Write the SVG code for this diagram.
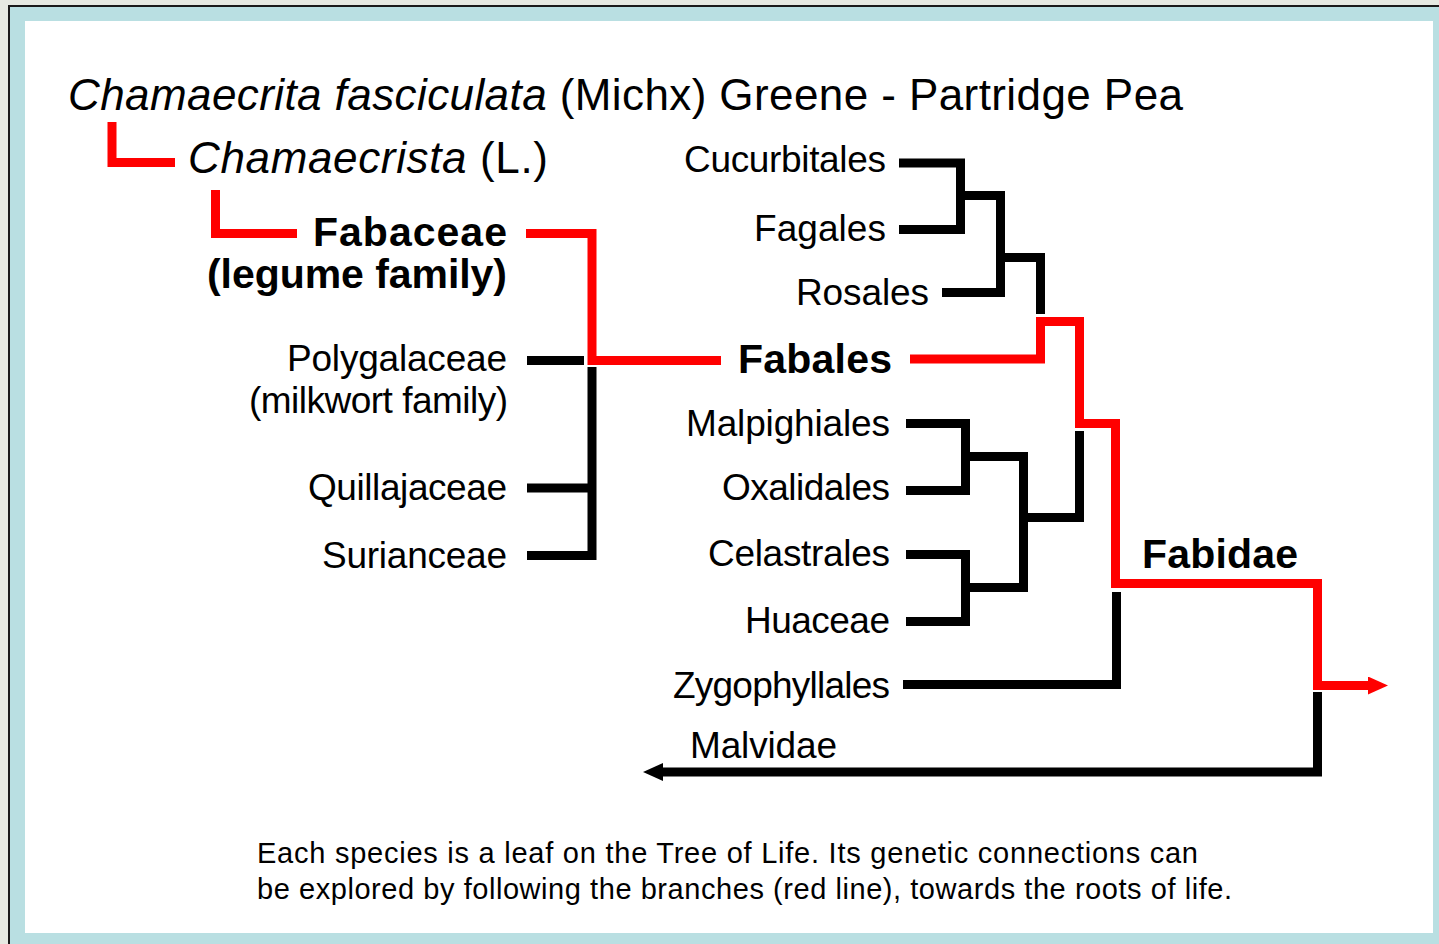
<svg xmlns="http://www.w3.org/2000/svg" width="1439" height="944" viewBox="0 0 1439 944">
<style>
text{font-family:"Liberation Sans",Arial,sans-serif;fill:#000}
.t{font-size:44px}
.b{font-size:41px;font-weight:bold}
.r{font-size:37px}
.f{font-size:29px}
.k{fill:none;stroke:#000;stroke-width:9;stroke-linejoin:miter}
.rd{fill:none;stroke:#ff0000;stroke-width:9;stroke-linejoin:miter}
</style>
<defs>
<marker id="ar" viewBox="0 0 20 18" markerWidth="20" markerHeight="18" markerUnits="userSpaceOnUse" refX="4" refY="9" orient="auto"><path d="M0,0 L20,9 L0,18 Z" fill="#ff0000"/></marker>
<marker id="ak" viewBox="0 0 20 18" markerWidth="20" markerHeight="18" markerUnits="userSpaceOnUse" refX="4" refY="9" orient="auto"><path d="M0,0 L20,9 L0,18 Z" fill="#000"/></marker>
</defs>
<rect x="0" y="0" width="1439" height="944" fill="#e6e9e2"/>
<rect x="8" y="5" width="1431" height="939" fill="#1a1a1a"/>
<rect x="10" y="7" width="1429" height="937" fill="#b9dfe2"/>
<rect x="25" y="21" width="1408" height="912" fill="#ffffff"/>

<g id="connectors">
<path class="k" d="M899,163 H960.5 V229.5 H899"/>
<path class="k" d="M960.5,195.5 H1000.5 V292.5 H942"/>
<path class="k" d="M1000.5,257.5 H1040.5 V314"/>
<path class="k" d="M906,423.5 H965.5 V490.5 H906"/>
<path class="k" d="M906,554.5 H965.5 V621.5 H906"/>
<path class="k" d="M965.5,456.5 H1023.5 V587.5 H965.5"/>
<path class="k" d="M1023.5,517.5 H1079.5 V431"/>
<path class="k" d="M903,684.5 H1116.5 V592"/>
<path class="k" d="M1317.5,692 V772 H659" marker-end="url(#ak)"/>
<path class="k" d="M527,360.5 H584"/>
<path class="k" d="M592,367 V555.5 H527"/>
<path class="k" d="M527,488 H592"/>
<path class="rd" d="M112,122 V162.5 H175"/>
<path class="rd" d="M215.5,190 V233.5 H297"/>
<path class="rd" d="M526,233.5 H592 V360.5 H721"/>
<path class="rd" d="M910,359 H1040.5 V321.5 H1079.5 V423.5 H1115.5 V583.5 H1317.5 V685.5 H1372" marker-end="url(#ar)"/>
</g>

<g id="title"><text class="t" x="68" y="110" textLength="1115" lengthAdjust="spacing"><tspan font-style="italic">Chamaecrita fasciculata</tspan> (Michx) Greene - Partridge Pea</text></g>
<g id="genus"><text class="t" x="188" y="173" textLength="360" lengthAdjust="spacing"><tspan font-style="italic">Chamaecrista</tspan> (L.)</text></g>
<g id="fabaceae"><text class="b" x="507" y="246" text-anchor="end" textLength="194" lengthAdjust="spacing">Fabaceae</text><text class="b" x="507" y="288" text-anchor="end" textLength="300" lengthAdjust="spacing">(legume family)</text></g>
<g id="polygalaceae"><text class="r" x="507" y="371" text-anchor="end" textLength="220" lengthAdjust="spacing">Polygalaceae</text><text class="r" x="508" y="413" text-anchor="end" textLength="259" lengthAdjust="spacing">(milkwort family)</text></g>
<g id="quillajaceae"><text class="r" x="507" y="500" text-anchor="end" textLength="199" lengthAdjust="spacing">Quillajaceae</text></g>
<g id="surianceae"><text class="r" x="507" y="568" text-anchor="end" textLength="185" lengthAdjust="spacing">Surianceae</text></g>
<g id="cucurbitales"><text class="r" x="886" y="172" text-anchor="end" textLength="202" lengthAdjust="spacing">Cucurbitales</text></g>
<g id="fagales"><text class="r" x="886" y="241" text-anchor="end" textLength="132" lengthAdjust="spacing">Fagales</text></g>
<g id="rosales"><text class="r" x="929" y="305" text-anchor="end" textLength="133" lengthAdjust="spacing">Rosales</text></g>
<g id="fabales"><text class="b" x="892" y="373" text-anchor="end" textLength="154" lengthAdjust="spacing">Fabales</text></g>
<g id="malpighiales"><text class="r" x="890" y="436" text-anchor="end" textLength="204" lengthAdjust="spacing">Malpighiales</text></g>
<g id="oxalidales"><text class="r" x="890" y="500" text-anchor="end" textLength="168" lengthAdjust="spacing">Oxalidales</text></g>
<g id="celastrales"><text class="r" x="890" y="566" text-anchor="end" textLength="182" lengthAdjust="spacing">Celastrales</text></g>
<g id="huaceae"><text class="r" x="890" y="633" text-anchor="end" textLength="145" lengthAdjust="spacing">Huaceae</text></g>
<g id="zygophyllales"><text class="r" x="890" y="698" text-anchor="end" textLength="217" lengthAdjust="spacing">Zygophyllales</text></g>
<g id="fabidae"><text class="b" x="1142" y="568" textLength="156" lengthAdjust="spacing">Fabidae</text></g>
<g id="malvidae"><text class="r" x="690" y="758" textLength="147" lengthAdjust="spacing">Malvidae</text></g>
<g id="caption"><text class="f" x="257" y="863" textLength="941" lengthAdjust="spacing">Each species is a leaf on the Tree of Life. Its genetic connections can</text><text class="f" x="257" y="899" textLength="975" lengthAdjust="spacing">be explored by following the branches (red line), towards the roots of life.</text></g>
</svg>
